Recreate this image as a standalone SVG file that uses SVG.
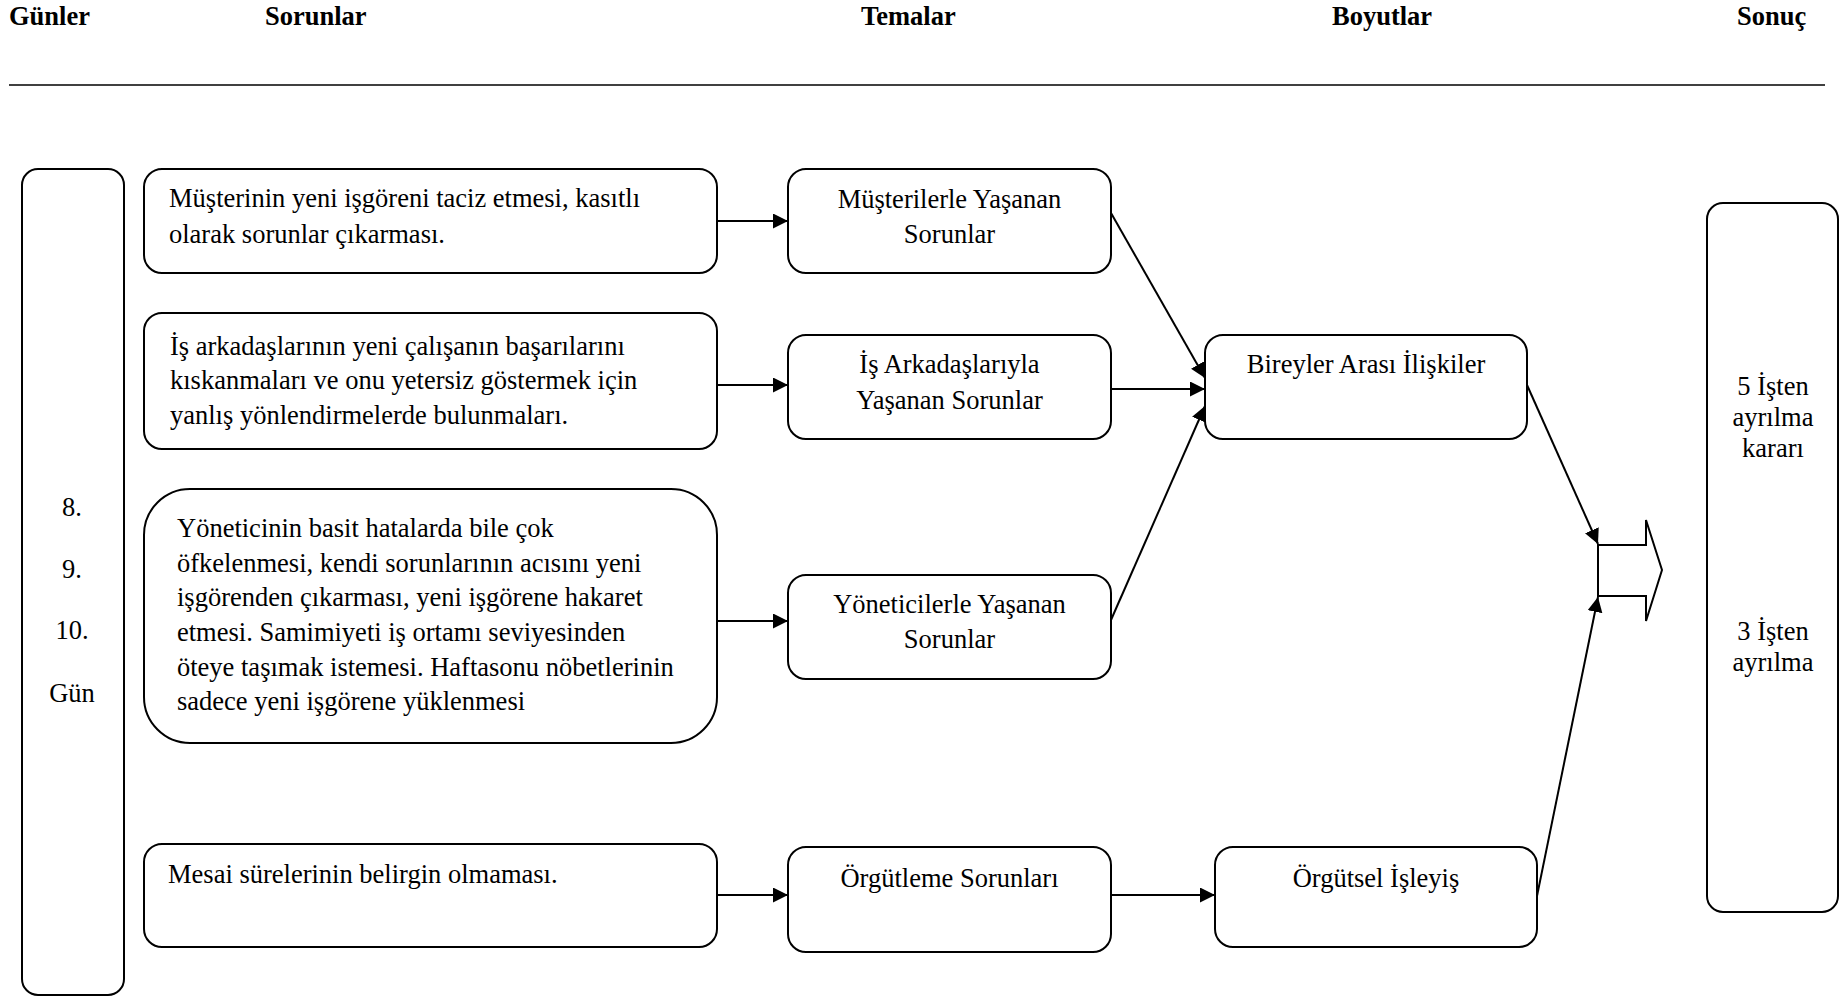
<svg xmlns="http://www.w3.org/2000/svg" width="1840" height="997" viewBox="0 0 1840 997">
  <style>
    .box { fill: #fff; stroke: #000; stroke-width: 2; }
    .txt { font-family: "Liberation Serif", "Times New Roman", serif; font-size: 26.5px; fill: #000; }
    .mid { text-anchor: middle; }
    .hdr { font-family: "Liberation Serif", "Times New Roman", serif; font-size: 26.5px; font-weight: bold; fill: #000; }
    .con { fill: none; stroke: #000; stroke-width: 2; }
  </style>
  <defs>
    <marker id="arrow" markerUnits="userSpaceOnUse" markerWidth="16" markerHeight="16" refX="15" refY="7.5" orient="auto">
      <path d="M0,0 L15,7.5 L0,15 z" fill="#000"/>
    </marker>
  </defs>
  <rect width="1840" height="997" fill="#fff"/>

  <!-- column headings -->
  <g id="headings">
    <text class="hdr" x="9" y="25">Günler</text>
    <text class="hdr" x="265" y="25">Sorunlar</text>
    <text class="hdr" x="861" y="25">Temalar</text>
    <text class="hdr" x="1332" y="25">Boyutlar</text>
    <text class="hdr" x="1737" y="25">Sonuç</text>
    <line x1="9" y1="85" x2="1825" y2="85" stroke="#000" stroke-width="1.6"/>
  </g>

  <!-- days column -->
  <g id="days">
    <rect class="box" x="22" y="169" width="102" height="826" rx="16"/>
    <text class="txt mid" x="72" y="516">8.</text>
    <text class="txt mid" x="72" y="578">9.</text>
    <text class="txt mid" x="72" y="639">10.</text>
    <text class="txt mid" x="72" y="702">Gün</text>
  </g>

  <!-- problems -->
  <g id="problem-customers">
    <rect class="box" x="144" y="169" width="573" height="104" rx="18"/>
    <text class="txt" x="169" y="207">Müşterinin yeni işgöreni taciz etmesi, kasıtlı</text>
    <text class="txt" x="169" y="243">olarak sorunlar çıkarması.</text>
  </g>
  <g id="problem-colleagues">
    <rect class="box" x="144" y="313" width="573" height="136" rx="18"/>
    <text class="txt" x="170" y="355">İş arkadaşlarının yeni çalışanın başarılarını</text>
    <text class="txt" x="170" y="389">kıskanmaları ve onu yetersiz göstermek için</text>
    <text class="txt" x="170" y="424">yanlış yönlendirmelerde bulunmaları.</text>
  </g>
  <g id="problem-managers">
    <rect class="box" x="144" y="489" width="573" height="254" rx="46"/>
    <text class="txt" x="177" y="537">Yöneticinin basit hatalarda bile çok</text>
    <text class="txt" x="177" y="572">öfkelenmesi, kendi sorunlarının acısını yeni</text>
    <text class="txt" x="177" y="606">işgörenden çıkarması, yeni işgörene hakaret</text>
    <text class="txt" x="177" y="641">etmesi. Samimiyeti iş ortamı seviyesinden</text>
    <text class="txt" x="177" y="676">öteye taşımak istemesi. Haftasonu nöbetlerinin</text>
    <text class="txt" x="177" y="710">sadece yeni işgörene yüklenmesi</text>
  </g>
  <g id="problem-organisation">
    <rect class="box" x="144" y="844" width="573" height="103" rx="18"/>
    <text class="txt" x="168" y="883">Mesai sürelerinin belirgin olmaması.</text>
  </g>

  <!-- themes -->
  <g id="theme-customers">
    <rect class="box" x="788" y="169" width="323" height="104" rx="18"/>
    <text class="txt mid" x="949.5" y="208">Müşterilerle Yaşanan</text>
    <text class="txt mid" x="949.5" y="243">Sorunlar</text>
  </g>
  <g id="theme-colleagues">
    <rect class="box" x="788" y="335" width="323" height="104" rx="18"/>
    <text class="txt mid" x="949.5" y="373">İş Arkadaşlarıyla</text>
    <text class="txt mid" x="949.5" y="409">Yaşanan Sorunlar</text>
  </g>
  <g id="theme-managers">
    <rect class="box" x="788" y="575" width="323" height="104" rx="18"/>
    <text class="txt mid" x="949.5" y="613">Yöneticilerle Yaşanan</text>
    <text class="txt mid" x="949.5" y="648">Sorunlar</text>
  </g>
  <g id="theme-organisation">
    <rect class="box" x="788" y="847" width="323" height="105" rx="18"/>
    <text class="txt mid" x="949.5" y="887">Örgütleme Sorunları</text>
  </g>

  <!-- dimensions -->
  <g id="dim-interpersonal">
    <rect class="box" x="1205" y="335" width="322" height="104" rx="18"/>
    <text class="txt mid" x="1366" y="373">Bireyler Arası İlişkiler</text>
  </g>
  <g id="dim-organisational">
    <rect class="box" x="1215" y="847" width="322" height="100" rx="18"/>
    <text class="txt mid" x="1376" y="887">Örgütsel İşleyiş</text>
  </g>

  <!-- outcome -->
  <g id="outcome-arrow">
    <polygon class="box" points="1598,545 1646,545 1646,520 1662,570 1646,621 1646,596 1598,596"/>
  </g>
  <g id="outcome">
    <rect class="box" x="1707" y="203" width="131" height="709" rx="16"/>
    <text class="txt mid" x="1773" y="395">5 İşten</text>
    <text class="txt mid" x="1773" y="426">ayrılma</text>
    <text class="txt mid" x="1773" y="457">kararı</text>
    <text class="txt mid" x="1773" y="640">3 İşten</text>
    <text class="txt mid" x="1773" y="671">ayrılma</text>
  </g>

  <!-- connectors -->
  <g id="connectors">
    <line class="con" x1="717" y1="221" x2="788" y2="221" marker-end="url(#arrow)"/>
    <line class="con" x1="717" y1="385" x2="788" y2="385" marker-end="url(#arrow)"/>
    <line class="con" x1="717" y1="621" x2="788" y2="621" marker-end="url(#arrow)"/>
    <line class="con" x1="717" y1="895" x2="788" y2="895" marker-end="url(#arrow)"/>
    <line class="con" x1="1111" y1="213" x2="1205" y2="378" marker-end="url(#arrow)"/>
    <line class="con" x1="1111" y1="389" x2="1205" y2="389" marker-end="url(#arrow)"/>
    <line class="con" x1="1111" y1="620" x2="1205" y2="406" marker-end="url(#arrow)"/>
    <line class="con" x1="1111" y1="895" x2="1215" y2="895" marker-end="url(#arrow)"/>
    <line class="con" x1="1527" y1="385" x2="1598" y2="544" marker-end="url(#arrow)"/>
    <line class="con" x1="1537" y1="896" x2="1598" y2="597" marker-end="url(#arrow)"/>
  </g>
</svg>
